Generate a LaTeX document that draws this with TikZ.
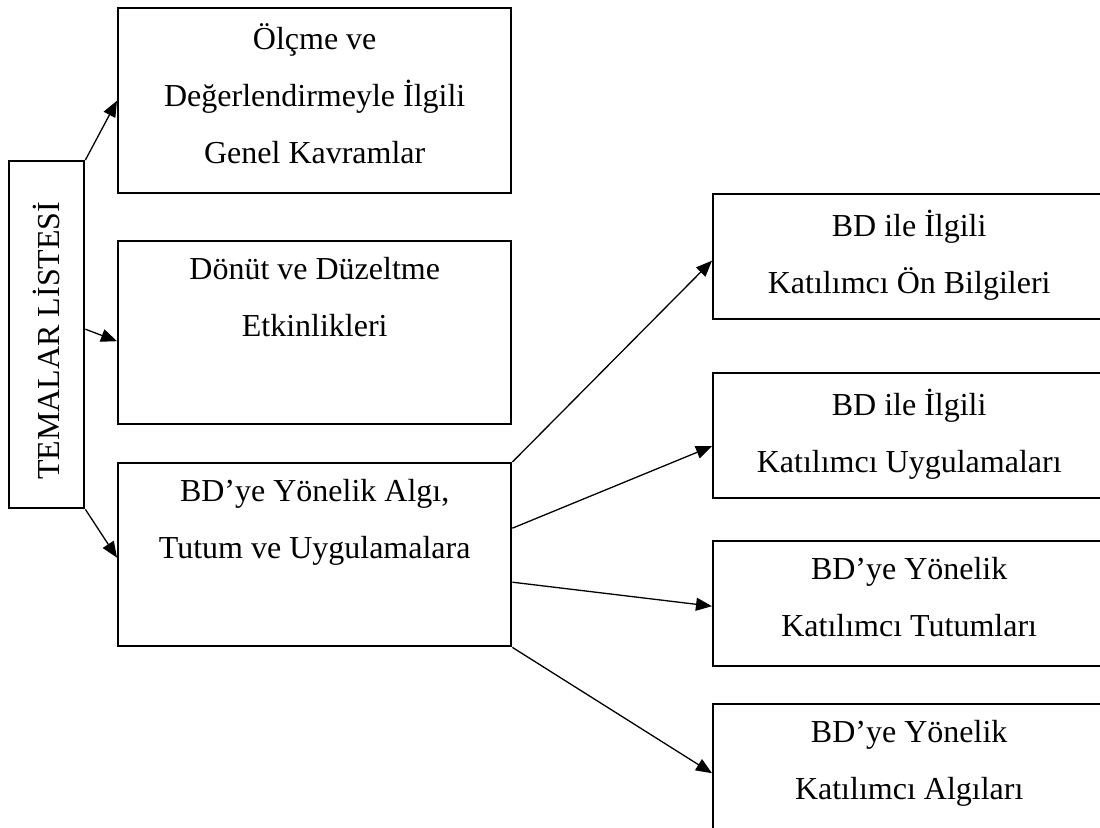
\documentclass[tikz,border=0pt]{standalone}
\usepackage{fontspec}
\setmainfont{Liberation Serif}
\usepackage{tikz}
\usetikzlibrary{positioning,arrows.meta}

\begin{document}
\begin{tikzpicture}[
    x=1pt, y=-1pt,
    block/.style={draw, rectangle, line width=1.2pt, anchor=north west, minimum width=196.5pt, minimum height=91.5pt, inner sep=0pt},
    rblock/.style={block, minimum width=196pt, minimum height=62.5pt},
    txt/.style={anchor=north, inner sep=0pt, yshift=-8.25pt, align=center, font=\fontsize{16}{28.5}\selectfont, execute at begin node=\rule{0pt}{14pt}},
    line/.style={-{Triangle[length=8pt,width=6.5pt]}, line width=0.65pt}
]
\useasboundingbox (0,0) rectangle (550,414);

\node[block, minimum width=37.5pt, minimum height=173.5pt] (tema) at (4,80) {};
\node[font=\fontsize{16}{19}\selectfont, rotate=90] (temaTxt) at ([yshift=-3pt]tema.center) {TEMALAR LİSTESİ};

\node[block, minimum height=92.5pt, label={[txt]north:Ölçme ve\\Değerlendirmeyle İlgili\\Genel Kavramlar}] (olcme) at (58.5,3.5) {};
\node[block, label={[txt]north:Dönüt ve Düzeltme\\Etkinlikleri}] (donut) at (58.5,120) {};
\node[block, label={[txt]north:BD’ye Yönelik Algı,\\Tutum ve Uygulamalara}] (algi) at (58.5,231) {};

\node[rblock, label={[txt]north:BD ile İlgili\\Katılımcı Ön Bilgileri}] (onbilgi) at (356,96.5) {};
\node[rblock, label={[txt]north:BD ile İlgili\\Katılımcı Uygulamaları}] (uygulama) at (356,186) {};
\node[rblock, label={[txt]north:BD’ye Yönelik\\Katılımcı Tutumları}] (tutum) at (356,270) {};
\node[rblock, label={[txt]north:BD’ye Yönelik\\Katılımcı Algıları}] (algilar) at (356,351.5) {};

\draw[line] (tema.north east) -- (olcme.west);
\draw[line] ([yshift=2.75pt]tema.east) -- ([yshift=-4.25pt]donut.west);
\draw[line] (tema.south east) -- ([yshift=-1.5pt]algi.west);

\draw[line] (algi.north east) -- ([yshift=-2pt]onbilgi.west);
\draw[line] ([yshift=13.25pt]algi.east) -- ([yshift=-5.25pt]uygulama.west);
\draw[line] ([yshift=-13.75pt]algi.east) -- ([yshift=-1.25pt]tutum.west);
\draw[line] (algi.south east) -- ([yshift=-3.25pt]algilar.west);

\end{tikzpicture}
\end{document}
